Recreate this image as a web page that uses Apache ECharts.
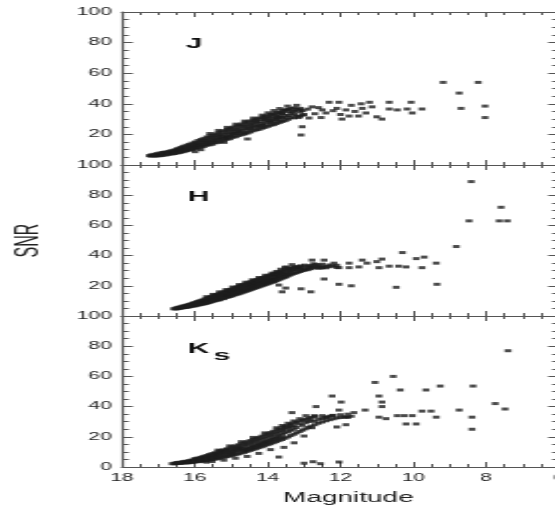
<!DOCTYPE html>
<html>
<head>
<meta charset="utf-8">
<script src="https://cdn.jsdelivr.net/npm/echarts@6/dist/echarts.min.js"></script>
<style>
  html, body { margin: 0; padding: 0; background: #fff; overflow: hidden; width: 555px; height: 510px; }
  /* the figure is drawn narrow and widened horizontally, like the printed plate */
  #chart { width: 278px; height: 510px; transform: scaleX(1.9964); transform-origin: 0 0; }
</style>
</head>
<body>
<div id="chart"></div>
<script>
// Band names for the three panels (top to bottom)
const bandNames = ['J', 'H', 'K'];

// Axis tick labels
const magTicks = [18, 16, 14, 12, 10, 8, 6];
const snrTicks = [0, 20, 40, 60, 80, 100];

// Dense sequence: each row is [magnitude, snr, snr, ...]
const jRows = [
  [17.25, 6.1], [17.19, 6.6, 5.8], [17.11, 5.9, 7.0, 6.4], [17.03, 7.4, 6.3, 5.9],
  [16.95, 6.7, 7.9, 6.1], [16.87, 7.6, 6.3, 8.2], [16.79, 6.6, 8.5, 7.3, 7.9],
  [16.71, 8.9, 7.0, 8.1, 7.5], [16.63, 7.2, 9.4, 8.4, 7.8], [16.55, 9.9, 8.0, 7.5, 9.1, 8.6],
  [16.47, 8.3, 10.7, 9.4, 7.9, 10.1], [16.39, 11.5, 8.9, 9.8, 8.3, 10.6],
  [16.31, 9.2, 11.2, 12.2, 10.1, 8.7], [16.23, 10.4, 12.9, 9.3, 11.7, 9.9],
  [16.15, 13.5, 9.7, 11.2, 12.4, 10.5], [16.07, 10.0, 12.1, 14.3, 11.0, 13.1],
  [15.99, 13.8, 10.6, 15.0, 12.2, 11.4, 8.7], [15.91, 11.1, 14.4, 16.0, 12.8, 13.6],
  [15.83, 15.2, 11.6, 16.7, 13.3, 12.5, 10.0], [15.75, 12.1, 14.7, 17.4, 16.0, 13.5],
  [15.67, 18.3, 12.9, 15.1, 16.6, 14.0], [15.59, 13.2, 17.6, 15.9, 19.1, 14.5, 20.6],
  [15.51, 16.4, 13.6, 19.6, 18.0, 15.0], [15.43, 14.5, 20.4, 17.1, 18.8, 15.8],
  [15.35, 19.4, 14.8, 21.1, 16.6, 17.9, 22.6], [15.27, 17.2, 15.4, 21.8, 19.9, 18.5],
  [15.19, 22.5, 16.3, 20.4, 18.4, 17.5, 14.8], [15.11, 16.8, 21.2, 23.2, 19.0, 18.0, 24.6],
  [15.03, 20.1, 17.2, 23.9, 22.0, 18.9], [14.95, 18.1, 24.7, 21.0, 19.6, 22.9],
  [14.87, 23.4, 18.5, 20.6, 25.4, 21.8, 26.7], [14.79, 19.3, 22.4, 26.0, 24.1, 20.9],
  [14.71, 25.3, 19.8, 23.0, 26.8, 21.7], [14.63, 21.1, 27.5, 23.8, 20.3, 25.5, 28.7],
  [14.55, 24.4, 20.9, 28.1, 22.6, 26.3, 17.0], [14.47, 21.6, 26.9, 23.5, 28.8, 25.1],
  [14.39, 29.4, 22.4, 25.8, 24.1, 27.7, 30.7], [14.31, 23.0, 27.4, 30.0, 25.3, 28.8],
  [14.23, 26.2, 23.3, 30.6, 28.4, 24.9], [14.15, 29.8, 24.1, 27.1, 31.3, 25.7, 32.6],
  [14.07, 24.6, 28.6, 31.8, 26.4, 30.3], [13.99, 30.8, 25.3, 27.9, 32.5, 29.3, 34.1],
  [13.91, 26.0, 29.1, 33.0, 31.2, 27.5], [13.83, 32.6, 26.4, 30.3, 28.4, 33.7, 35.6],
  [13.75, 27.1, 34.2, 29.6, 32.0, 30.8], [13.67, 31.5, 27.8, 34.8, 29.2, 33.1, 36.9],
  [13.59, 33.7, 28.5, 35.5, 31.0], [13.51, 29.0, 32.4, 35.9, 30.6],
  [13.43, 34.8, 29.9, 36.5, 32.2], [13.35, 31.0, 36.9, 33.6],
  [13.27, 35.2, 30.8, 37.3, 33.0], [13.19, 32.0, 36.4], [13.11, 34.6, 31.9, 36.0],
  [13.03, 32.6, 35.5]
];
// Bright stars scattered above the turnover: [magnitude, snr]
const jSparse = [
  [13.7, 31], [13.6, 34], [13.5, 36], [13.45, 38.5], [13.3, 35], [13.2, 39], [13.14, 31],
  [13.1, 37], [13.08, 19.6], [13.05, 25], [13.0, 33], [12.9, 36.5], [12.86, 30.7],
  [12.78, 38], [12.7, 33.5], [12.6, 37.5], [12.53, 31], [12.5, 36], [12.4, 34],
  [12.31, 41], [12.2, 35.5], [12.1, 37], [12.04, 41], [12.0, 33], [11.96, 30],
  [11.85, 36], [11.76, 32], [11.7, 39], [11.6, 35], [11.5, 32], [11.43, 40], [11.4, 37],
  [11.3, 34], [11.2, 41], [11.13, 38], [11.0, 31.5], [10.86, 30], [10.66, 41],
  [10.66, 36.6], [10.44, 36], [10.17, 36.6], [10.06, 41], [10.03, 34], [9.76, 36.6],
  [9.18, 54], [8.74, 47], [8.69, 37], [8.22, 54], [8.03, 38.5], [8.03, 31]
];

const hRows = [
  [16.58, 4.8], [16.52, 5.2, 4.6], [16.46, 4.9, 5.7, 5.3], [16.40, 6.0, 5.1, 5.6],
  [16.34, 5.4, 6.5, 5.9], [16.28, 6.8, 5.6, 6.2], [16.22, 5.8, 7.2, 6.6, 6.1],
  [16.16, 7.0, 6.0, 7.7, 6.5], [16.10, 6.4, 8.0, 7.3, 6.9], [16.04, 8.6, 6.6, 7.6, 8.1, 7.1],
  [15.98, 7.4, 9.0, 6.8, 8.3, 7.9], [15.92, 9.6, 7.2, 8.7, 7.9, 9.1],
  [15.86, 7.5, 8.4, 10.1, 9.4, 8.0], [15.80, 10.5, 8.9, 7.8, 9.7, 8.3],
  [15.74, 8.1, 9.3, 11.1, 10.2, 8.7], [15.68, 11.6, 9.0, 10.5, 8.4, 9.8, 12.8],
  [15.62, 9.4, 12.2, 10.1, 11.3, 8.8], [15.56, 10.6, 9.2, 12.7, 11.8, 10.0],
  [15.50, 13.3, 9.7, 11.1, 12.2, 10.4, 14.3], [15.44, 10.1, 12.9, 11.5, 13.8, 10.8],
  [15.38, 12.4, 10.5, 14.3, 11.3, 13.5], [15.32, 11.0, 14.8, 12.9, 10.7, 13.9, 16.0],
  [15.26, 15.4, 11.5, 13.3, 12.4, 14.6], [15.20, 12.0, 14.2, 16.0, 11.5, 13.1],
  [15.14, 14.7, 12.3, 16.5, 13.6, 15.5, 17.5], [15.08, 12.6, 15.9, 14.0, 17.1, 13.3],
  [15.02, 16.6, 13.0, 15.2, 17.6, 14.3], [14.96, 13.4, 17.9, 15.7, 14.6, 16.9, 19.2],
  [14.90, 18.7, 14.0, 16.1, 17.4, 15.2], [14.84, 14.4, 16.7, 19.2, 15.6, 18.0],
  [14.78, 17.4, 14.8, 19.8, 16.2, 18.6, 20.8], [14.72, 15.3, 20.3, 17.9, 16.6, 19.0],
  [14.66, 19.6, 15.8, 18.1, 20.9, 17.0], [14.60, 16.3, 21.3, 18.7, 17.5, 20.2, 22.4],
  [14.54, 19.4, 16.8, 21.9, 18.0, 20.8], [14.48, 17.3, 20.1, 22.5, 18.6, 21.4],
  [14.42, 22.9, 17.8, 19.3, 21.0, 20.4, 24.0], [14.36, 18.3, 21.6, 23.5, 19.8, 22.6],
  [14.30, 20.6, 18.8, 24.0, 22.1, 19.9], [14.24, 19.3, 23.0, 24.5, 21.1, 22.3, 25.5],
  [14.18, 24.9, 19.8, 21.8, 23.4, 20.9], [14.12, 20.3, 22.6, 25.5, 21.5, 24.1],
  [14.06, 23.8, 20.8, 26.0, 22.3, 25.0, 27.0], [14.00, 21.3, 24.6, 26.5, 23.0, 22.1],
  [13.94, 25.6, 21.8, 23.7, 27.0, 24.5], [13.88, 22.3, 26.3, 24.1, 27.5, 23.2, 28.4],
  [13.82, 27.0, 22.8, 25.2, 28.0, 24.0], [13.76, 23.3, 26.0, 28.5, 24.7, 27.4, 29.5],
  [13.70, 27.8, 23.9, 29.0, 25.6, 26.8], [13.64, 24.5, 28.6, 26.2, 29.5, 27.3, 31.0],
  [13.58, 29.9, 25.1, 27.4, 28.5], [13.52, 26.0, 30.5, 28.0, 25.7, 32.0],
  [13.46, 29.3, 26.4, 31.0, 27.6], [13.40, 27.0, 30.2, 31.5, 28.6],
  [13.34, 31.9, 27.6, 29.7], [13.28, 28.2, 32.3, 30.4], [13.22, 30.8, 28.6, 32.6],
  [13.16, 29.1, 31.7], [13.10, 33.2, 29.5, 31.2], [13.04, 30.1, 32.4],
  [12.98, 31.1, 33.7, 30.4], [12.90, 32.8, 30.7], [12.82, 31.3, 33.4],
  [12.74, 34.6, 31.8, 33.0], [12.66, 32.2, 34.1], [12.58, 31.6, 33.3],
  [12.50, 34.3, 32.4], [12.40, 32.9, 31.9], [12.30, 33.8, 32.6], [12.20, 33.1],
  [12.10, 32.2, 33.6]
];
const hSparse = [
  [13.69, 20.5], [13.6, 16], [13.5, 18.5], [13.5, 32.5], [13.33, 34], [13.14, 32.5],
  [13.08, 18], [12.86, 32], [12.81, 16], [12.78, 37], [12.5, 32], [12.45, 37],
  [12.45, 24.5], [12.18, 35], [12.04, 32], [12.04, 21], [11.76, 35], [11.76, 32],
  [11.7, 20], [11.49, 32.5], [11.4, 37], [11.27, 35], [11.0, 36], [10.94, 32],
  [10.86, 37.7], [10.66, 33], [10.47, 19], [10.4, 33], [10.3, 42], [10.2, 32.5],
  [9.92, 38], [9.76, 32], [9.7, 39], [9.37, 35], [9.35, 21], [8.82, 46],
  [8.47, 63], [8.41, 89], [7.64, 63], [7.59, 72], [7.42, 63]
];

const kRows = [
  [16.62, 2.2], [16.55, 2.6, 2.1], [16.48, 2.3, 2.9, 2.6], [16.40, 3.2, 2.4, 2.8],
  [16.32, 2.6, 3.5, 3.0], [16.24, 3.8, 2.7, 3.3], [16.16, 3.0, 4.2, 3.6, 2.8],
  [16.08, 4.6, 3.1, 3.9, 3.4], [16.00, 3.3, 5.1, 4.3, 3.8, 5.5],
  [15.92, 4.8, 3.5, 5.9, 4.1, 5.3], [15.84, 3.7, 6.4, 5.0, 4.4, 5.7],
  [15.76, 5.4, 4.0, 7.0, 6.2, 4.7], [15.68, 7.6, 4.3, 5.8, 6.7, 5.1, 3.2],
  [15.60, 4.6, 6.2, 8.3, 5.4, 7.2], [15.52, 6.8, 4.9, 8.9, 5.8, 7.7, 3.6],
  [15.44, 5.2, 9.4, 7.3, 6.3, 8.4], [15.36, 8.0, 5.5, 10.2, 6.7, 9.1, 11.2],
  [15.28, 6.0, 8.6, 10.8, 7.3, 9.7], [15.20, 11.4, 6.4, 9.3, 7.8, 10.4, 4.5],
  [15.12, 6.8, 10.0, 12.0, 8.4, 11.2], [15.04, 9.5, 7.2, 12.6, 10.8, 8.2, 14.0],
  [14.96, 7.7, 11.6, 13.4, 9.0, 10.3], [14.88, 12.4, 8.2, 14.0, 9.8, 11.1, 5.8],
  [14.80, 8.7, 10.6, 14.7, 12.9, 11.8], [14.72, 13.5, 9.2, 15.4, 11.3, 12.3, 16.8],
  [14.64, 9.7, 12.0, 16.1, 14.3, 10.9], [14.56, 14.9, 10.3, 16.8, 12.7, 11.6, 7.0],
  [14.48, 11.0, 13.4, 17.5, 15.6, 12.2], [14.40, 16.3, 11.5, 18.2, 14.1, 12.9, 19.6],
  [14.32, 12.1, 14.8, 18.9, 17.0, 13.5], [14.24, 17.7, 12.8, 19.6, 15.5, 14.2, 9.0],
  [14.16, 13.4, 16.2, 20.4, 18.5, 14.8], [14.08, 19.2, 14.0, 21.2, 16.9, 15.6, 22.6],
  [14.00, 14.8, 17.7, 22.0, 20.1, 16.3], [13.92, 20.8, 15.4, 22.8, 18.5, 17.1, 11.5],
  [13.84, 16.1, 19.3, 23.6, 21.6, 17.9], [13.76, 22.4, 16.8, 24.4, 20.1, 18.6, 26.0],
  [13.68, 17.5, 21.0, 25.2, 23.3, 19.2], [13.60, 24.1, 18.2, 26.0, 21.8, 20.0, 27.5],
  [13.52, 19.0, 22.6, 26.8, 25.0], [13.44, 25.9, 19.9, 27.6, 23.4, 29.0],
  [13.36, 20.8, 24.3, 28.4, 26.6], [13.28, 27.3, 21.7, 29.1, 25.0, 30.5],
  [13.20, 22.6, 26.2, 29.7], [13.12, 28.5, 23.5, 30.4, 32.0], [13.04, 24.4, 27.6, 31.0],
  [12.96, 29.4, 25.3, 31.6], [12.88, 26.2, 30.1, 32.2], [12.80, 31.0, 27.1, 32.8],
  [12.70, 28.0, 33.4, 30.2], [12.60, 31.6, 29.0], [12.50, 29.8, 34.0, 32.1],
  [12.40, 32.7, 30.6], [12.30, 31.3, 33.5], [12.20, 34.2, 31.9], [12.10, 32.5],
  [12.00, 34.6, 32.8], [11.90, 33.2], [11.80, 35.0, 33.0], [11.70, 33.6]
];
const kSparse = [
  [13.69, 6.6], [13.55, 13], [13.33, 36], [13.27, 16], [13.0, 20.5], [13.0, 2.5],
  [12.95, 34], [12.78, 26], [12.75, 3.5], [12.72, 34], [12.67, 40], [12.55, 2.2],
  [12.4, 33], [12.23, 47], [12.23, 34], [12.1, 26.5], [12.04, 37.7], [12.04, 3.3],
  [11.98, 43], [11.85, 28], [11.82, 33], [11.63, 36], [11.32, 37.7], [11.05, 56],
  [10.94, 47], [10.94, 33], [10.86, 43], [10.86, 40], [10.75, 32], [10.55, 60],
  [10.44, 34], [10.36, 51], [10.25, 34], [10.2, 28.5], [10.03, 34], [9.92, 28.5],
  [9.76, 37], [9.65, 51], [9.51, 37], [9.37, 33], [9.26, 53.6], [8.74, 37.7],
  [8.39, 33], [8.39, 25], [8.36, 53.6], [7.75, 42], [7.48, 38.4], [7.4, 77]
];

// expand [mag, snr, snr, ...] rows into [mag, snr] pairs
function expandRows(rows) {
  const out = [];
  rows.forEach(r => { for (let i = 1; i < r.length; i++) out.push([r[0], r[i]]); });
  return out;
}
const panelData = [
  expandRows(jRows).concat(jSparse),
  expandRows(hRows).concat(hSparse),
  expandRows(kRows).concat(kSparse)
];

const axisColor = '#555';
const textColor = '#222';
const fontFamily = '"Liberation Sans", Arial, sans-serif';
const panelTops = [12, 165, 316];
const panelHeights = [153, 151, 151];

const magMin = Math.min(...magTicks), magMax = Math.max(...magTicks);
const snrMin = Math.min(...snrTicks), snrMax = Math.max(...snrTicks);

const grid = panelTops.map((t, i) => ({
  left: 61, right: -2, top: t, height: panelHeights[i], outerBoundsMode: 'none'
}));

const xAxis = [];
const yAxis = [];
for (let i = 0; i < 3; i++) {
  ['bottom', 'top'].forEach(pos => {
    const labelled = (i === 2 && pos === 'bottom');
    xAxis.push({
      type: 'value', gridIndex: i, position: pos, inverse: true,
      min: magMin, max: magMax, interval: 2,
      axisLine: { show: true, onZero: false, lineStyle: { color: axisColor, width: 1.2 } },
      axisTick: { show: true, inside: true, length: 5, lineStyle: { color: axisColor, width: 1 } },
      minorTick: { show: true, splitNumber: 4, length: 3, lineStyle: { color: axisColor, width: 1 } },
      splitLine: { show: false }, minorSplitLine: { show: false },
      axisLabel: { show: labelled, margin: 6, fontSize: 10.5, color: textColor, fontFamily },
      name: labelled ? 'Magnitude' : '',
      nameLocation: 'middle', nameGap: 24,
      nameTextStyle: { fontSize: 14, color: textColor, fontFamily, padding: [0, 0, 0, 8] }
    });
  });
  ['left', 'right'].forEach(pos => {
    const labelled = pos === 'left';
    yAxis.push({
      type: 'value', gridIndex: i, position: pos,
      min: snrMin, max: snrMax, interval: 20,
      axisLine: { show: true, onZero: false, lineStyle: { color: axisColor, width: 1.2 } },
      axisTick: { show: true, inside: true, length: 5.5, lineStyle: { color: axisColor, width: 1 } },
      minorTick: { show: true, splitNumber: 4, length: 3.5, lineStyle: { color: axisColor, width: 1 } },
      splitLine: { show: false }, minorSplitLine: { show: false },
      axisLabel: { show: labelled, showMinLabel: i === 2, margin: 5, fontSize: 10.5, color: textColor, fontFamily },
      name: (labelled && i === 1) ? 'SNR' : '',
      nameLocation: 'middle', nameGap: 38, nameRotate: 90,
      nameTextStyle: { fontSize: 16, color: textColor, fontFamily }
    });
  });
}

const series = panelData.map((d, i) => ({
  type: 'scatter', name: bandNames[i],
  xAxisIndex: i * 2, yAxisIndex: i * 2,
  data: d, symbol: 'rect', symbolSize: [3.4, 3],
  itemStyle: { color: '#1e1e1e' },
  silent: true
}));

const bandFont = 'bold 15px ' + fontFamily;
const graphic = [
  { type: 'text', left: 93, top: 36, style: { text: bandNames[0], font: bandFont, fill: '#111' } },
  { type: 'text', left: 94, top: 189, style: { text: bandNames[1], font: bandFont, fill: '#111' } },
  { type: 'text', left: 94, top: 341, style: { text: bandNames[2], font: bandFont, fill: '#111' } },
  { type: 'text', left: 107, top: 348, style: { text: 's', font: bandFont, fill: '#111' } }
];

const chart = echarts.init(document.getElementById('chart'), null, { renderer: 'canvas' });
chart.setOption({
  animation: false,
  backgroundColor: '#fff',
  grid, xAxis, yAxis, series, graphic
});
</script>
</body>
</html>
